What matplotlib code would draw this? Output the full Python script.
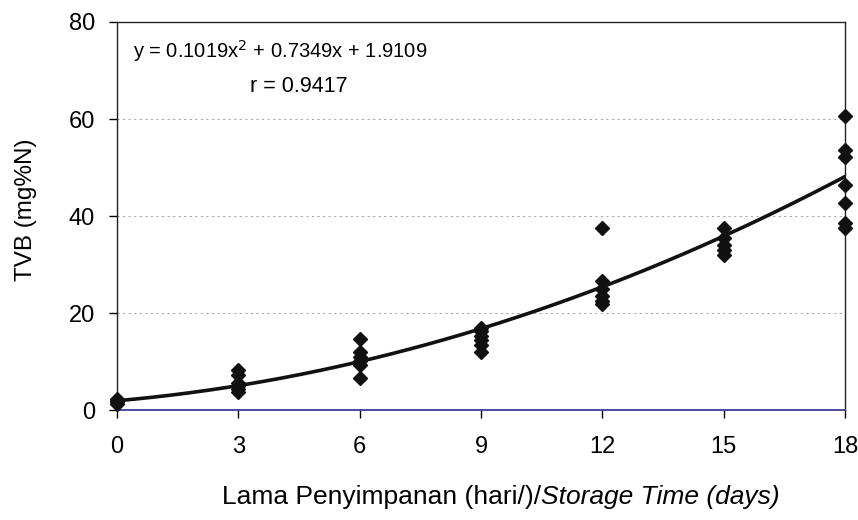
import matplotlib.pyplot as plt
import numpy as np

plt.rcParams['font.family'] = ['Liberation Sans', 'DejaVu Sans']

# Observed TVB values per storage day
days = [0, 3, 6, 9, 12, 15, 18]
tvb = [
    [1.2, 1.6, 2.0, 2.3, 1.8],
    [8.3, 7.2, 5.6, 5.0, 4.4, 3.7],
    [14.7, 12.0, 11.0, 10.2, 9.3, 6.5],
    [17.0, 16.2, 15.3, 14.5, 13.5, 11.9],
    [37.6, 26.5, 25.0, 23.5, 22.5, 21.8],
    [37.5, 35.5, 34.0, 33.0, 32.0],
    [60.6, 53.6, 52.2, 46.4, 42.7, 38.6, 37.5],
]
# Polynomial trendline coefficients shown on the chart
coef = [0.1019, 0.7349, 1.9109]

xticks = [0, 3, 6, 9, 12, 15, 18]
yticks = [0, 20, 40, 60, 80]


def main():
    fig = plt.figure(figsize=(8.58, 5.2), dpi=100)
    ax = fig.add_axes([0.1364, 0.2115, 0.8486, 0.7462])

    # grid
    for yv in yticks[1:-1]:
        ax.axhline(yv, color='#aaaaaa', linestyle=(0, (2, 3)), linewidth=0.8, zorder=0)

    # trendline
    xs = np.linspace(0, 18, 200)
    ax.plot(xs, np.polyval(coef, xs), color='#111111', linewidth=2.6, zorder=2)

    # data points
    for d, vals in zip(days, tvb):
        ax.plot([d] * len(vals), vals, linestyle='none', marker='D',
                markersize=7, color='#111111', zorder=3, clip_on=False)

    ax.set_xlim(0, 18)
    ax.set_ylim(0, 80)
    ax.set_xticks(xticks)
    ax.set_yticks(yticks)
    ax.tick_params(labelsize=17, direction='out', length=6, width=1)
    ax.tick_params(axis='x', pad=13)
    ax.tick_params(axis='y', pad=10)

    for s in ['top', 'right', 'left']:
        ax.spines[s].set_color('#222222')
        ax.spines[s].set_linewidth(1)
    ax.spines['bottom'].set_color('#3c3c9c')
    ax.spines['bottom'].set_linewidth(1.3)

    ax.set_ylabel('TVB (mg%N)', fontsize=17.5)
    ax.yaxis.set_label_coords(-0.11, 0.515)

    # equation
    ax.text(0.022, 0.925, 'y = 0.1019x$^{2}$ + 0.7349x + 1.9109', transform=ax.transAxes,
            fontsize=14.5, va='center', ha='left')
    ax.text(0.182, 0.833, 'r = 0.9417', transform=ax.transAxes,
            fontsize=15.5, va='center', ha='left')

    # x label with italic part
    t1 = fig.text(0.259, 0.03, 'Lama Penyimpanan (hari/)/', fontsize=19, va='baseline')
    ax.annotate('Storage Time (days)', xy=(1, 0), xycoords=t1, fontsize=19,
                style='italic', va='bottom', ha='left')

    fig.savefig('out.png', dpi=100)


if __name__ == "__main__":
    main()
